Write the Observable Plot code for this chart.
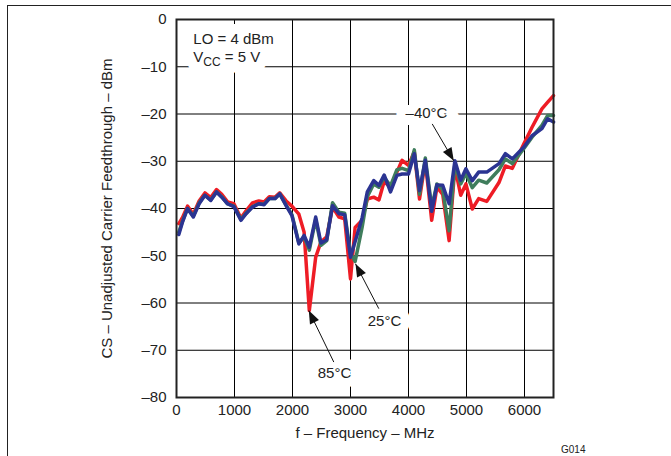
<!DOCTYPE html>
<html>
<head>
<meta charset="utf-8">
<script src="https://cdn.jsdelivr.net/npm/d3@7"></script>
<script src="https://cdn.jsdelivr.net/npm/@observablehq/plot@0.6"></script>
<style>
  html, body { margin: 0; padding: 0; background: #fff; overflow: hidden; }
  #sheet { position: absolute; left: 7px; top: 5px; width: 1000px; height: 1000px;
           border: 1px solid #222; pointer-events: none; }
  #chart { position: absolute; left: 0; top: 0; }
</style>
</head>
<body>
<div id="chart"></div>
<div id="sheet"></div>
<script>
// Carrier feedthrough vs LO frequency at three temperatures
const freq = [
  40, 100, 190, 290, 390, 490, 590, 690, 780, 880,
  990, 1110, 1200, 1310, 1420, 1510, 1600, 1700, 1780, 1890,
  1990, 2110, 2200, 2290, 2400, 2490, 2590, 2690, 2800, 2900,
  3000, 3080, 3200, 3290, 3400, 3490, 3580, 3690, 3800, 3890,
  4000, 4100, 4190, 4290, 4400, 4490, 4590, 4700, 4800, 4900,
  4990, 5100, 5210, 5350, 5560, 5670, 5790, 5990, 6130, 6300,
  6400, 6500
];
const cold = [ // −40 °C
  -45.5, -43, -40, -41.8, -39, -37.2, -38.3, -36.5, -37.6, -39,
  -39.6, -42.5, -41.1, -39.7, -39, -39.2, -37.9, -37.9, -36.9, -39.4,
  -41.5, -47.5, -45.7, -48.2, -41.8, -47.3, -46.6, -39.4, -41.1, -41.3,
  -50.3, -47, -42, -36.5, -34.1, -35.1, -32.9, -36.5, -33, -32.7,
  -32.7, -28.4, -36.2, -29.8, -40.6, -35, -35.1, -39, -29.9, -34,
  -31.6, -34.1, -32.3, -32.3, -30.5, -28.4, -29.5, -27, -24.6, -23.1,
  -21, -21.7
];
const room = [ // 25 °C
  -45, -42.8, -40, -41.6, -38.8, -37.2, -38.2, -36.5, -37.5, -39,
  -39.5, -42.3, -41, -39.6, -39, -39.1, -37.9, -37.9, -36.9, -39.3,
  -41.3, -47.3, -46, -48.8, -42.3, -47.8, -46.8, -38.8, -40.8, -41,
  -49.5, -51.2, -44, -37.5, -34.8, -35.5, -33.4, -35.2, -31.8, -31.5,
  -32, -27.6, -37, -29.3, -39.7, -34.8, -36, -44.7, -30.5, -34.8,
  -32.6, -35.6, -34, -34.6, -31.8, -29.5, -30.5, -27.3, -24.9, -22.4,
  -20.3, -20.3
];
const hot = [ // 85 °C
  -43.2, -42, -39.5, -41.2, -38.4, -36.7, -37.7, -36, -37, -38.6,
  -39, -42, -40.5, -38.8, -38.4, -38.6, -37.5, -37.6, -36.7, -38.4,
  -39.5, -41.2, -45, -61.6, -50.3, -47.1, -46, -39.7, -41.8, -42.2,
  -54.9, -44, -42.5, -38, -37.6, -38.2, -34.3, -35.5, -32.3, -29.8,
  -30.9, -28, -38, -30, -42.5, -35.5, -37, -46.8, -31.2, -37.2,
  -34.8, -40.1, -37.9, -38.5, -34.5, -31, -31.5, -26.3, -22.8, -18.9,
  -17.5, -16.1
];

const xTicks = [0, 1000, 2000, 3000, 4000, 5000, 6000];
const yTicks = [0, -10, -20, -30, -40, -50, -60, -70, -80];

// condition text in the upper-left corner
const conditions = [
  {f: 290, db: -4.2, text: "LO = 4 dBm"},
  {f: 290, db: -8.0, text: "VCC = 5 V"}
];
// curve call-outs: label position, arrow tail and arrow tip
const callouts = [
  {text: "–40°C", lf: 4310, ldb: -19.8, f1: 4409, db1: -22.1, f2: 4781, db2: -29.9},
  {text: "25°C",  lf: 3586, ldb: -63.8, f1: 3488, db1: -61.2, f2: 3086, db2: -51.7},
  {text: "85°C",  lf: 2724, ldb: -74.9, f1: 2712, db1: -72.5, f2: 2281, db2: -61.6}
];

const W = 671, H = 456;
const M = {left: 176, right: 118, top: 19, bottom: 59};
const xDomain = [0, 6500], yDomain = [-80, 0];

const series = (vals) => freq.map((f, i) => ({f, db: vals[i]}));

// screen-space direction of each call-out arrow, for the filled head
const sx = d3.scaleLinear(xDomain, [M.left, W - M.right]);
const sy = d3.scaleLinear(yDomain, [H - M.bottom, M.top]);
const heading = (d) => {
  const dx = sx(d.f2) - sx(d.f1), dy = sy(d.db2) - sy(d.db1);
  return Math.atan2(dx, -dy) * 180 / Math.PI;
};

const fmtY = (d) => d < 0 ? "–" + (-d) : String(d);
const fmtX = (d) => String(d);
const ink = "#222";
const knockout = {fill: "#fff", stroke: "#fff", strokeLinejoin: "miter", fontSize: 15};

const plot = Plot.plot({
  width: W, height: H,
  marginLeft: M.left, marginRight: M.right, marginTop: M.top, marginBottom: M.bottom,
  style: {fontFamily: "'Liberation Sans', Arial, Helvetica, sans-serif", fontSize: "15px", color: ink, background: "#fff"},
  x: {domain: xDomain},
  y: {domain: yDomain},
  marks: [
    Plot.gridX(xTicks, {stroke: "#000", strokeOpacity: 1, strokeWidth: 1}),
    Plot.gridY(yTicks, {stroke: "#000", strokeOpacity: 1, strokeWidth: 1}),
    Plot.line(series(hot),  {x: "f", y: "db", stroke: "#ee1c25", strokeWidth: 3.5, strokeLinejoin: "round"}),
    Plot.line(series(room), {x: "f", y: "db", stroke: "#3f7d5c", strokeWidth: 3.5, strokeLinejoin: "round"}),
    Plot.line(series(cold), {x: "f", y: "db", stroke: "#2b3492", strokeWidth: 3.5, strokeLinejoin: "round"}),
    // white boxes behind the annotation text
    Plot.text(conditions, {x: "f", y: "db", text: "text", textAnchor: "start", strokeWidth: 20, ...knockout}),
    Plot.text(callouts, {x: "lf", y: "ldb", text: "text", strokeWidth: 18, ...knockout}),
    Plot.text(conditions, {x: "f", y: "db", text: "text", textAnchor: "start", fill: ink, fontSize: 15}),
    Plot.text(callouts, {x: "lf", y: "ldb", text: "text", fill: ink, fontSize: 15}),
    Plot.link(callouts, {x1: "f1", y1: "db1", x2: "f2", y2: "db2", stroke: "#111", strokeWidth: 1}),
    Plot.vector(callouts, {x: "f2", y: "db2", rotate: heading, length: 13, r: 5,
      shape: "spike", anchor: "end", fill: "#111", stroke: "none"}),
    Plot.frame({stroke: ink, strokeWidth: 2}),
    Plot.axisX(xTicks, {tickSize: 0, tickPadding: 7, tickFormat: fmtX, label: null, fontSize: 15}),
    Plot.axisY(yTicks, {tickSize: 0, tickPadding: 10, tickFormat: fmtY, label: null, fontSize: 15}),
    Plot.text(["f – Frequency – MHz"], {frameAnchor: "bottom", dy: 40, fontSize: 15, fill: ink}),
    Plot.text(["CS – Unadjusted Carrier Feedthrough – dBm"], {frameAnchor: "left", textAnchor: "middle",
      dx: -69, rotate: -90, fontSize: 15, fill: ink}),
    Plot.text(["G014"], {frameAnchor: "bottom-right", dx: 32, dy: 55, fontSize: 10, fill: ink})
  ]
});

// subscript for the supply-voltage label
d3.select(plot).selectAll("text").filter(function () { return this.textContent === "VCC = 5 V"; })
  .each(function () {
    const t = d3.select(this);
    t.text("V");
    t.append("tspan").attr("dy", 4).attr("font-size", 12).text("CC");
    t.append("tspan").attr("dy", -4).text(" = 5 V");
  });

document.getElementById("chart").append(plot);
</script>
</body>
</html>
